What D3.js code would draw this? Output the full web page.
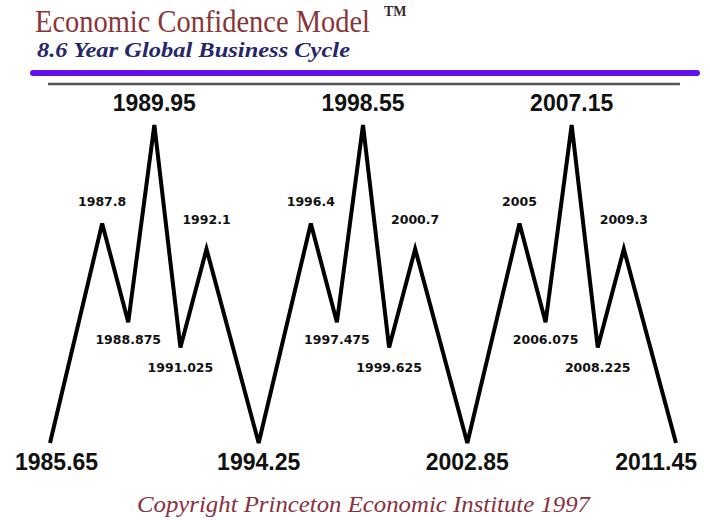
<!DOCTYPE html>
<html>
<head>
<meta charset="utf-8">
<script src="https://cdn.jsdelivr.net/npm/d3@7"></script>
<style>
  body { margin: 0; background: #fff; }
  svg { display: block; }
</style>
</head>
<body>
<div id="chart"></div>
<script>
// turning points of the cycle (years) and their relative confidence level
const years = [1985.65, 1987.8, 1988.875, 1989.95, 1991.025, 1992.1, 1994.25,
               1996.4, 1997.475, 1998.55, 1999.625, 2000.7, 2002.85,
               2005, 2006.075, 2007.15, 2008.225, 2009.3, 2011.45];
const levels = [0, 69, 38, 100, 30, 61, 0,
                69, 38, 100, 30, 61, 0,
                69, 38, 100, 30, 61, 0];
const yearLabels = ["1985.65", "1987.8", "1988.875", "1989.95", "1991.025", "1992.1", "1994.25",
                    "1996.4", "1997.475", "1998.55", "1999.625", "2000.7", "2002.85",
                    "2005", "2006.075", "2007.15", "2008.225", "2009.3", "2011.45"];

const width = 710, height = 520;
const svg = d3.select("#chart").append("svg")
    .attr("width", width)
    .attr("height", height);

const x = d3.scaleLinear()
    .domain([years[0], years[years.length - 1]])
    .range([50, 676]);
const y = d3.scaleLinear()
    .domain([0, 100])
    .range([443, 125]);

const points = years.map((yr, i) => ({year: yr, level: levels[i], label: yearLabels[i]}));

// header
svg.append("text")
    .attr("x", 35).attr("y", 32)
    .attr("font-family", "Liberation Serif, serif")
    .attr("font-size", 32)
    .attr("fill", "#8a3438")
    .attr("textLength", 335)
    .attr("lengthAdjust", "spacingAndGlyphs")
    .text("Economic Confidence Model");
svg.append("text")
    .attr("x", 384).attr("y", 16)
    .attr("font-family", "Liberation Serif, serif")
    .attr("font-size", 14)
    .attr("font-weight", "bold")
    .attr("fill", "#3a2a2a")
    .text("TM");
svg.append("text")
    .attr("x", 37).attr("y", 57)
    .attr("font-family", "Liberation Serif, serif")
    .attr("font-size", 21)
    .attr("font-style", "italic")
    .attr("font-weight", "bold")
    .attr("fill", "#26266a")
    .attr("textLength", 313)
    .attr("lengthAdjust", "spacingAndGlyphs")
    .text("8.6 Year Global Business Cycle");

svg.append("line")
    .attr("x1", 33).attr("x2", 697)
    .attr("y1", 73).attr("y2", 73)
    .attr("stroke", "#6410ee")
    .attr("stroke-width", 6)
    .attr("stroke-linecap", "round");
svg.append("line")
    .attr("x1", 48).attr("x2", 680)
    .attr("y1", 84).attr("y2", 84)
    .attr("stroke", "#55525e")
    .attr("stroke-width", 2.5);

// the cycle line
const line = d3.line()
    .x(d => x(d.year))
    .y(d => y(d.level));

svg.append("path")
    .datum(points)
    .attr("d", line)
    .attr("fill", "none")
    .attr("stroke", "#000")
    .attr("stroke-width", 4);

// labels
function kind(i) {
    const d = points[i];
    if (d.level === 0) return "bottom";
    if (d.level === 100) return "top";
    return d.level > points[i - 1].level ? "peak" : "trough";
}
const isBig = i => kind(i) === "top" || kind(i) === "bottom";

const labels = svg.append("g")
    .selectAll("text")
    .data(points)
    .join("text")
    .attr("text-anchor", "middle")
    .attr("fill", "#111")
    .attr("font-weight", "bold")
    .attr("font-family", (d, i) => isBig(i) ? "Liberation Sans, Arial, sans-serif" : "DejaVu Sans, sans-serif")
    .attr("font-size", (d, i) => isBig(i) ? 23 : 12.5)
    .attr("x", d => x(d.year))
    .attr("y", (d, i) => {
        const k = kind(i);
        if (k === "top") return 111;
        if (k === "bottom") return y(d.level) + 27;
        if (k === "peak") return y(d.level) - (d.level > 65 ? 18 : 25);
        return y(d.level) + (d.level > 35 ? 22 : 24);
    })
    .text(d => d.label);

// keep the end labels inside the page
labels.each(function () {
    const half = this.getComputedTextLength() / 2;
    const cx = +this.getAttribute("x");
    this.setAttribute("x", Math.max(15 + half, Math.min(width - 13 - half, cx)));
});

// footer
svg.append("text")
    .attr("x", 137).attr("y", 512)
    .attr("font-family", "Liberation Serif, serif")
    .attr("font-size", 23)
    .attr("font-style", "italic")
    .attr("fill", "#8a3040")
    .attr("textLength", 453)
    .attr("lengthAdjust", "spacingAndGlyphs")
    .text("Copyright Princeton Economic Institute 1997");
</script>
</body>
</html>
